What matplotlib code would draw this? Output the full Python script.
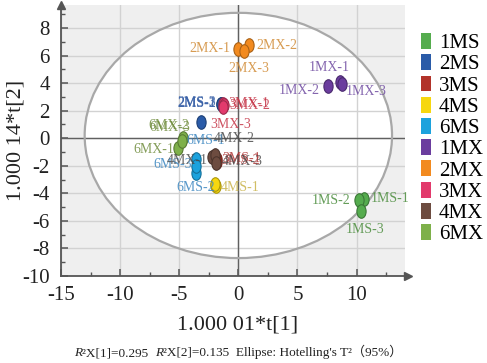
#!/usr/bin/env python3
"""PCA score plot (t[1] vs t[2]) with Hotelling's T2 ellipse."""

import numpy as np
import matplotlib
matplotlib.use("Agg")
import matplotlib.pyplot as plt
from matplotlib.patches import Ellipse, Patch
from matplotlib.path import Path
from matplotlib.offsetbox import TextArea, HPacker, AnchoredOffsetbox
from matplotlib.ticker import MultipleLocator

# groups in legend order
groups = ["1MS", "2MS", "3MS", "4MS", "6MS", "1MX", "2MX", "3MX", "4MX", "6MX"]
colors = ["#55ac4e", "#2a5ba8", "#b2332a", "#f6d70f", "#1ca2dd",
          "#6b3d9e", "#f28a1f", "#e23a6c", "#6d4c40", "#7eb04a"]
label_colors = ["#4a8c3c", "#3a62a8", "#b03a3a", "#c9b34a", "#3b86c0",
                "#6e4aa0", "#d08a34", "#c53446", "#4b4b4b", "#6f8c3c"]

# score values t[1], t[2] per group
t1 = [
    [10.6, 10.2, 10.4],
    [-1.5, -1.5, -3.2],
    [-1.8, -1.9, -1.8],
    [-1.95, -1.9, -2.0],
    [-3.6, -3.6, -3.6],
    [8.6, 7.6, 8.75],
    [0.0, 0.9, 0.5],
    [-1.3, -1.2, -1.3],
    [-2.2, -2.0, -1.9],
    [-5.1, -4.7, -4.8],
]
t2 = [
    [-4.4, -4.5, -5.3],
    [2.5, 2.5, 1.2],
    [-1.5, -1.6, -1.7],
    [-3.4, -3.5, -3.3],
    [-1.5, -2.5, -2.0],
    [4.1, 3.8, 3.9],
    [6.5, 6.8, 6.3],
    [2.5, 2.4, 2.3],
    [-1.4, -1.2, -1.8],
    [-0.7, 0.0, -0.2],
]
# sample labels ("" where the label is hidden in the original)
names = [
    ["1MS-1", "1MS-2", "1MS-3"],
    ["2MS-1", "2MS-2", "2MS-3"],
    ["3MS-1", "3MS-2", ""],
    ["4MS-1", "", ""],
    ["6MS-1", "6MS-2", "6MS-3"],
    ["1MX-1", "1MX-2", "1MX-3"],
    ["2MX-1", "2MX-2", "2MX-3"],
    ["3MX-1", "3MX-2", "3MX-3"],
    ["4MX-1", "4MX-2", "4MX-3"],
    ["6MX-1", "6MX-2", "6MX-3"],
]

# label placement (offset in points, horizontal alignment)
label_offsets = {
    "1MS-1": (5, 0, "left"), "1MS-2": (-6, 0, "right"), "1MS-3": (3, -13, "center"),
    "2MS-1": (-3, 0, "right"), "2MS-2": (-3, 0, "right"), "2MS-3": (11, 14, "right"),
    "3MS-1": (4, 0, "left"), "3MS-2": (4, 0, "left"),
    "4MS-1": (4, -2, "left"),
    "6MS-1": (7, 13, "center"), "6MS-2": (0, -11, "center"), "6MS-3": (-3, 1, "right"),
    "1MX-1": (-8, 10, "center"), "1MX-2": (-6, -3, "right"), "1MX-3": (3, -5, "left"),
    "2MX-1": (-6, 0, "right"), "2MX-2": (5, -1, "left"), "2MX-3": (3, -12, "center"),
    "3MX-1": (4, 0, "left"), "3MX-2": (4, 0, "left"), "3MX-3": (-9, -13, "left"),
    "4MX-1": (-3, -2, "right"), "4MX-2": (-1, 12, "left"), "4MX-3": (4, 1, "left"),
    "6MX-1": (-3, -1, "right"), "6MX-2": (5, 9, "right"), "6MX-3": (6, 10, "right"),
}

# Hotelling's T2 ellipse (centre, semi-axes)
ell_center = (0.0, 0.2)
ell_radii = (13.0, 8.9)

SERIF = ["Liberation Serif", "DejaVu Serif"]


def ellipse_marker():
    circ = Path.unit_circle()
    return Path(circ.vertices * np.array([0.68, 1.0]), circ.codes)


def main():
    plt.rcParams["font.family"] = SERIF
    plt.rcParams["axes.unicode_minus"] = False

    fig = plt.figure(figsize=(4.87, 3.63), dpi=100)
    ax = fig.add_axes([0.1253, 0.2397, 0.7064, 0.7466])
    ax.set_facecolor("#efefef")
    ax.set_xlim(-15, 14.1)
    ax.set_ylim(-10, 9.67)

    # ellipse: white interior below grid, outline above
    ax.add_patch(Ellipse(ell_center, 2 * ell_radii[0], 2 * ell_radii[1],
                         facecolor="white", edgecolor="none", zorder=0.2))
    ax.add_patch(Ellipse(ell_center, 2 * ell_radii[0], 2 * ell_radii[1],
                         facecolor="none", edgecolor="#a8a8a8", lw=1.6, zorder=1.5))

    ax.xaxis.set_major_locator(MultipleLocator(5))
    ax.xaxis.set_minor_locator(MultipleLocator(2.5))
    ax.yaxis.set_major_locator(MultipleLocator(2))
    ax.yaxis.set_minor_locator(MultipleLocator(1))
    ax.set_axisbelow(True)
    ax.grid(True, which="major", color="#d2d2d2", lw=1.0)
    ax.axhline(0, color="#606060", lw=1.0, zorder=1)
    ax.axvline(0, color="#606060", lw=1.0, zorder=1)

    for side in ["top", "right"]:
        ax.spines[side].set_visible(False)
    for side in ["left", "bottom"]:
        ax.spines[side].set_color("#555555")
        ax.spines[side].set_linewidth(1.3)
    ax.plot(1.01, 0, ">", color="#555555", ms=6, transform=ax.transAxes, clip_on=False)
    ax.plot(0, 1.0, "^", color="#555555", ms=6, transform=ax.transAxes, clip_on=False)

    ax.tick_params(which="both", direction="in", colors="#555555", labelcolor="#222222")
    ax.tick_params(which="major", length=5, width=1.1, labelsize=15)
    ax.tick_params(which="minor", length=3, width=1.0)
    ax.tick_params(axis="x", pad=7)
    ax.tick_params(axis="y", pad=8)

    marker = ellipse_marker()
    for gi, g in enumerate(groups):
        edge = tuple(np.array(matplotlib.colors.to_rgb(colors[gi])) * 0.7)
        ax.scatter(t1[gi], t2[gi], s=95, marker=marker, color=colors[gi],
                   edgecolors=[edge], linewidths=0.8, zorder=3 + gi * 0.1)
        for x, y, name in zip(t1[gi], t2[gi], names[gi]):
            if not name:
                continue
            dx, dy, ha = label_offsets[name]
            ax.annotate(name, (x, y), xytext=(dx, dy), textcoords="offset points",
                        ha=ha, va="center", fontsize=10, color=label_colors[gi],
                        alpha=0.85, zorder=5)

    fig.text(238 / 487, 1 - 325 / 363, "1.000 01*t[1]", ha="center", va="center",
             fontsize=16, color="#222222")
    fig.text(16 / 487, 1 - 140 / 363, "1.000 14*t[2]", ha="center", va="center",
             rotation=90, fontsize=16, color="#222222")

    handles = [Patch(facecolor=c, edgecolor="none") for c in colors]
    fig.legend(handles, groups, loc="upper left",
               bbox_to_anchor=(421 / 487, 1 - 33 / 363), frameon=False,
               fontsize=15, handlelength=0.5, handleheight=0.8, handletextpad=0.35,
               labelspacing=0.05, borderpad=0, borderaxespad=0)

    # caption: R^2X[1]=... with italic R
    cap = dict(fontsize=9.5, color="#222222", family=SERIF + ["Noto Sans CJK SC"])
    cap_it = dict(cap, style="italic")
    parts = [
        TextArea("R", textprops=cap_it),
        TextArea("\u00b2X[1]=0.295  ", textprops=cap),
        TextArea("R", textprops=cap_it),
        TextArea("\u00b2X[2]=0.135  Ellipse: Hotelling's T\u00b2\uff0895%\uff09",
                 textprops=cap),
    ]
    box = HPacker(children=parts, align="baseline", pad=0, sep=0)
    anchored = AnchoredOffsetbox(loc="center", child=box, frameon=False,
                                 bbox_to_anchor=(238 / 487, 1 - 352 / 363),
                                 bbox_transform=fig.transFigure, borderpad=0, pad=0)
    fig.add_artist(anchored)

    fig.savefig("out.png", dpi=100)


if __name__ == "__main__":
    main()
